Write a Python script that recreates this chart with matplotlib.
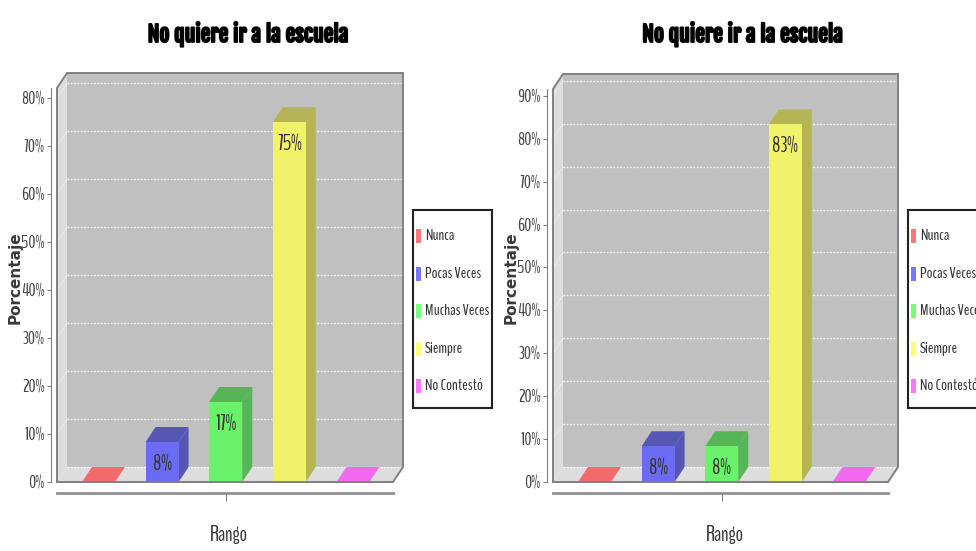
import math
import matplotlib
matplotlib.use('Agg')
import matplotlib.pyplot as plt
from matplotlib import font_manager
from matplotlib import patheffects
from matplotlib.font_manager import FontProperties
from matplotlib.textpath import TextPath
from matplotlib.patches import Polygon, Rectangle
from matplotlib.lines import Line2D
from matplotlib.ticker import FuncFormatter

W, H, DPI = 976, 551, 100

# ---------------- data ----------------
categories = ['Nunca', 'Pocas Veces', 'Muchas Veces', 'Siempre', 'No Contestó']
left_values = [0.0, 8.33, 16.67, 75.0, 0.0]
right_values = [0.0, 8.33, 8.33, 83.33, 0.0]
left_ticks = [0, 10, 20, 30, 40, 50, 60, 70, 80]
right_ticks = [0, 10, 20, 30, 40, 50, 60, 70, 80, 90]
left_ymax = 82.1
right_ymax = 91.6
chart_title = 'No quiere ir a la escuela'
x_label = 'Rango'
y_label = 'Porcentaje'
series_colors = ['#ff5555', '#5555ff', '#55ff55', '#ffff55', '#ff55ff']

# ---------------- fonts ----------------
names = {f.name for f in font_manager.fontManager.ttflist}


def _w(f):
    w = f.weight
    if isinstance(w, str):
        w = font_manager.weight_dict.get(w, 400)
    return w


static_bold = {f.name for f in font_manager.fontManager.ttflist
               if _w(f) >= 700 and '[' not in f.fname}


def ink(s, fam, weight):
    e = TextPath((0, 0), s, size=100, prop=FontProperties(family=fam, weight=weight)).get_extents()
    return e.width, e.height


def best_font(cands, sample, capchar, ratio):
    best, score = ('DejaVu Sans', 'bold'), 1e9
    for f, wt in cands:
        if f not in names:
            continue
        if wt == 'bold' and f not in static_bold:
            continue
        try:
            w, _ = ink(sample, f, wt)
            _, h = ink(capchar, f, wt)
        except Exception:
            continue
        if h <= 0:
            continue
        sc = abs(math.log((w / h) / ratio))
        if sc < score:
            best, score = (f, wt), sc
    return best


def fit_size(s, fam, weight, target_px):
    w, _ = ink(s, fam, weight)
    return target_px / (w / 100 * DPI / 72)


title_font, title_wt = best_font([('Anton', 'normal'), ('Fjalla One', 'normal'),
                                  ('Barlow Condensed', 'bold'), ('Fira Sans Extra Condensed', 'bold'),
                                  ('Saira Extra Condensed', 'bold'), ('Roboto Condensed', 'bold'),
                                  ('Sofia Sans Extra Condensed', 'bold'), ('Asap Condensed', 'bold')],
                                 chart_title, 'N', 199 / 22)
body_font, _ = best_font([(f, 'normal') for f in
                          ['Sofia Sans Extra Condensed', 'Pathway Gothic One', 'BenchNine', 'Oswald',
                           'Fira Sans Extra Condensed', 'Roboto Condensed', 'Archivo Narrow',
                           'Barlow Condensed', 'Saira Extra Condensed', 'Sofia Sans Condensed']],
                         'Muchas Veces', 'M', 64 / 14)

TITLE = dict(family=[title_font, 'DejaVu Sans'], fontweight=title_wt,
             fontsize=fit_size(chart_title, title_font, title_wt, 198))
LEG = dict(family=[body_font, 'DejaVu Sans'], fontsize=fit_size('Muchas Veces', body_font, 'normal', 63))
TICK_SIZE = fit_size('80%', body_font, 'normal', 22)
BARLAB = dict(family=[body_font, 'DejaVu Sans'], fontsize=fit_size('17%', body_font, 'normal', 20))
XLAB = dict(family=[body_font, 'DejaVu Sans'], fontsize=fit_size(x_label, body_font, 'normal', 36))
YLAB = dict(family='DejaVu Sans', fontweight='bold', fontsize=11)

BACK = (192, 192, 192)


def blend(hexc, factor=1.0, alpha=0.8, bg=BACK):
    h = hexc.lstrip('#')
    rgb = [int(h[i:i + 2], 16) for i in (0, 2, 4)]
    rgb = [int(c * factor) for c in rgb]
    return tuple((alpha * c + (1 - alpha) * b) / 255 for c, b in zip(rgb, bg))


fig = plt.figure(figsize=(W / DPI, H / DPI), dpi=DPI)
fig.patch.set_facecolor('white')

CAT_PX = 63.6     # px between category centres
FIRST_PX = 41.5   # px from plot left to first centre
BAR_PX = 33.0
DEPTH_X, DEPTH_Y = 10.0, 15.0


def fx(px):
    return px / W


def fy(py):
    return 1 - py / H


def draw_chart(x0, x1, ytop, ybot, values, ymax, ticks, legend_x, title_cx):
    ax = fig.add_axes([fx(x0), fy(ybot), (x1 - x0) / W, (ybot - ytop) / H])
    ax.set_facecolor('none')
    xlo = -FIRST_PX / CAT_PX
    xhi = xlo + (x1 - x0) / CAT_PX
    ax.set_xlim(xlo, xhi)
    ax.set_ylim(0, ymax)
    ppy = (ybot - ytop) / ymax
    dx = DEPTH_X / CAT_PX
    dy = DEPTH_Y / ppy

    # back wall
    ax.add_patch(Polygon([(xlo + dx, dy), (xhi + dx, dy), (xhi + dx, ymax + dy), (xlo + dx, ymax + dy)],
                         closed=True, fc='#c0c0c0', ec='none', clip_on=False, zorder=0))
    # left wall
    ax.add_patch(Polygon([(xlo, 0), (xlo + dx, dy), (xlo + dx, ymax + dy), (xlo, ymax)],
                         closed=True, fc='#dddddd', ec='none', clip_on=False, zorder=0.5))
    # floor
    ax.add_patch(Polygon([(xlo, 0), (xhi, 0), (xhi + dx, dy), (xlo + dx, dy)],
                         closed=True, fc='#dddddd', ec='none', clip_on=False, zorder=0.5))
    # gridlines
    for t in ticks:
        ax.add_line(Line2D([xlo + dx, xhi + dx], [t + dy, t + dy], color='white', lw=1.0,
                           ls=(0, (1.2, 1.2)), clip_on=False, zorder=1, alpha=0.9))
        if t > 0:
            ax.add_line(Line2D([xlo, xlo + dx], [t, t + dy], color='white', lw=0.8,
                               ls=(0, (1.2, 1.2)), clip_on=False, zorder=1, alpha=0.6))

    # bars
    hw = BAR_PX / CAT_PX / 2
    for i, (v, c) in enumerate(zip(values, series_colors)):
        front = blend(c)
        dark = blend(c, 0.7)
        l, r = i - hw, i + hw
        if v <= 0:
            ax.add_patch(Polygon([(l, 0), (r, 0), (r + dx, dy), (l + dx, dy)], closed=True,
                                 fc=front, ec='none', clip_on=False, zorder=2))
            continue
        ax.add_patch(Polygon([(r, 0), (r + dx, dy), (r + dx, v + dy), (r, v)], closed=True,
                             fc=dark, ec='none', clip_on=False, zorder=2))
        ax.add_patch(Polygon([(l, v), (r, v), (r + dx, v + dy), (l + dx, v + dy)], closed=True,
                             fc=dark, ec='none', clip_on=False, zorder=2))
        ax.bar(i, v, width=2 * hw, color=front, zorder=3, clip_on=False)
        ax.annotate(f'{round(v)}%', (i, v), xytext=(0, -22), textcoords='offset pixels',
                    ha='center', va='center', color='#333333', zorder=5, **BARLAB)

    # outline
    ax.add_patch(Polygon([(xlo, 0), (xlo, ymax), (xlo + dx, ymax + dy), (xhi + dx, ymax + dy),
                          (xhi + dx, dy), (xhi, 0)], closed=True, fc='none', ec='#808080', lw=1.4,
                         clip_on=False, zorder=4))

    # axes
    for s in ('top', 'right'):
        ax.spines[s].set_visible(False)
    ax.spines['left'].set_position(('outward', 4))
    ax.spines['left'].set_color('#808080')
    ax.spines['bottom'].set_position(('outward', 8))
    ax.spines['bottom'].set_color('#909090')
    ax.spines['bottom'].set_linewidth(2)
    ax.set_yticks(ticks)
    ax.yaxis.set_major_formatter(FuncFormatter(lambda val, p: f'{val:.0f}%'))
    ax.tick_params(axis='y', length=3, color='#808080', labelcolor='#444444', labelsize=TICK_SIZE, pad=2)
    for lab in ax.get_yticklabels():
        lab.set_family([body_font, 'DejaVu Sans'])
    ax.set_xticks([(len(categories) - 1) / 2])
    ax.set_xticklabels([''])
    ax.tick_params(axis='x', length=6, color='#808080')

    cx = (x0 + x1) / 2
    fig.text(fx(cx + 4), fy(541), x_label, ha='center', va='baseline', color='#333333', **XLAB)
    fig.text(fx(x0 - 42), fy(278), y_label, rotation=90, ha='center', va='center',
             color='#3a3a3a', **YLAB)
    fig.text(fx(title_cx), fy(42), chart_title, ha='center', va='baseline', color='black',
             path_effects=[patheffects.withStroke(linewidth=1.3, foreground='black')], **TITLE)

    # legend
    fig.add_artist(Rectangle((fx(legend_x), fy(408)), 79 / W, 198 / H, transform=fig.transFigure,
                             fc='white', ec='#222222', lw=1.5))
    for i, (name, c) in enumerate(zip(categories, series_colors)):
        yc = 236 + 37.5 * i
        fig.add_artist(Rectangle((fx(legend_x + 3), fy(yc + 7)), 5 / W, 14 / H,
                                 transform=fig.transFigure, fc=blend(c, bg=(255, 255, 255)), ec='none'))
        fig.text(fx(legend_x + 12), fy(yc), name, ha='left', va='center', color='#333333', **LEG)
    return ax


draw_chart(57, 393, 88, 482, left_values, left_ymax, left_ticks, 413, 247.5)
draw_chart(553, 888, 89, 482, right_values, right_ymax, right_ticks, 908, 742)

fig.savefig('out.png', dpi=DPI, facecolor='white')
